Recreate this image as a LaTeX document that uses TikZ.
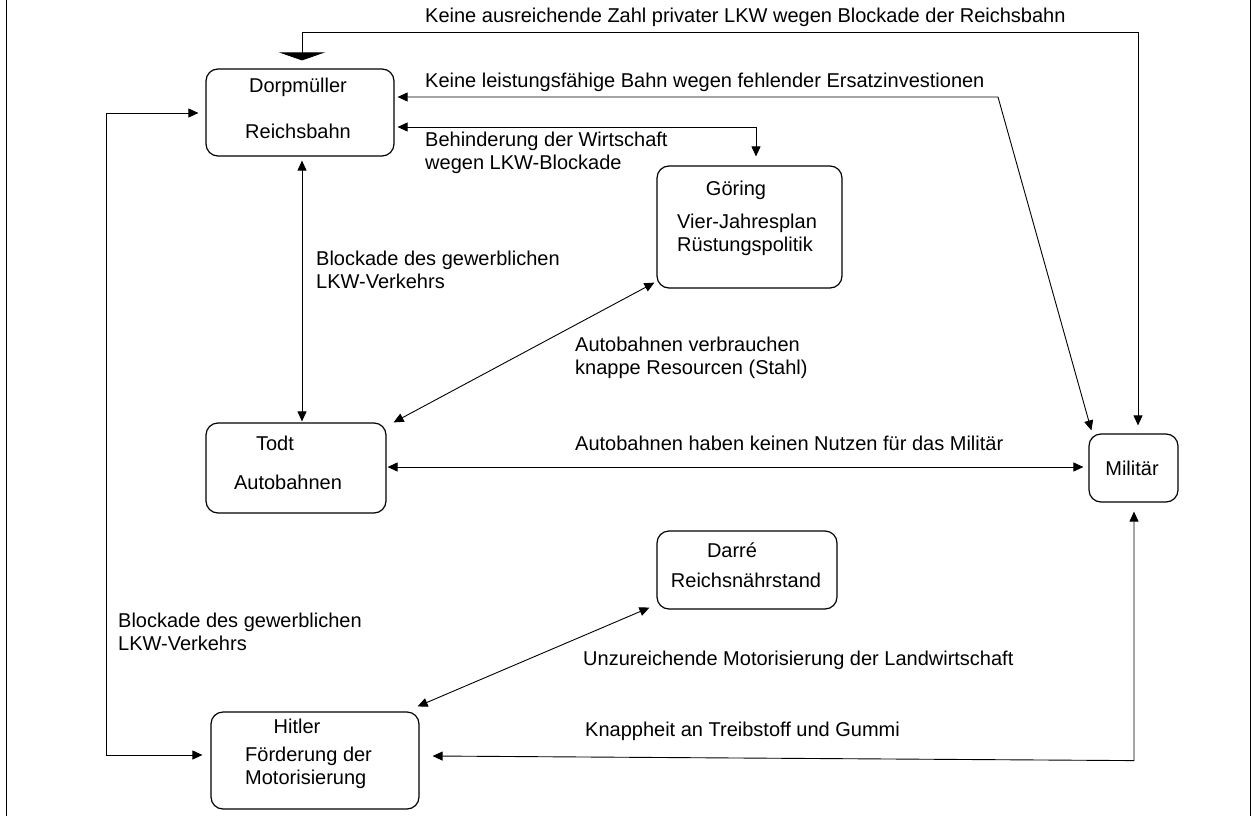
\documentclass[tikz,border=0pt]{standalone}
\usepackage{fontspec}
\setmainfont{Liberation Sans}
\usetikzlibrary{arrows.meta,calc}
\begin{document}
\begin{tikzpicture}[x=1pt,y=-1pt,
  >={Triangle[length=10pt,width=9pt]},
  box/.style={draw=black, line width=1.2pt, rounded corners=12pt, inner sep=0pt},
  conn/.style={draw=black, line width=0.9pt},
  txt/.style={inner sep=0pt, font=\fontsize{20}{23}\selectfont, text=black},
  lab/.style={txt, anchor=west, align=left}]
\fill[white] (0,0) rectangle (1252,816);
\useasboundingbox (0,0) rectangle (1252,816);
\draw[line width=1pt] (6,0) -- (6,816);
\draw[line width=1pt] (1250,0) -- (1250,816);

% boxes
\node[box, minimum width=188pt, minimum height=87pt] (dorp) at (300,112.5) {};
\node[box, minimum width=185pt, minimum height=122pt] (goer) at (749.5,227) {};
\node[box, minimum width=180pt, minimum height=90pt] (todt) at (296,468) {};
\node[box, minimum width=89pt, minimum height=68pt] (mil) at (1133.5,468) {};
\node[box, minimum width=180pt, minimum height=78pt] (darre) at (747,570) {};
\node[box, minimum width=208pt, minimum height=97pt] (hitler) at (315,760.5) {};

% box texts
\node[txt] (t1) at (298,87) {Dorpmüller};
\node[txt] (t2) at (298,131) {Reichsbahn};
\node[txt] (t3) at (736,190) {Göring};
\node[lab] (t4) at (677,234.5) {Vier-Jahresplan\\Rüstungspolitik};
\node[txt] (t5) at (275,443) {Todt};
\node[txt] (t6) at (288,482) {Autobahnen};
\node[txt] (t7) at (1132,468) {Militär};
\node[txt] (t8) at (732,550) {Darré};
\node[txt] (t9) at (746,580) {Reichsnährstand};
\node[txt] (t10) at (297,726) {Hitler};
\node[lab] (t11) at (245,767.5) {Förderung der\\Motorisierung};

% labels
\node[lab] (l1) at (425,17) {Keine ausreichende Zahl privater LKW wegen Blockade der Reichsbahn};
\node[lab] (l2) at (425,82) {Keine leistungsfähige Bahn wegen fehlender Ersatzinvestionen};
\node[lab] (l3) at (425,153) {Behinderung der Wirtschaft\\wegen LKW-Blockade};
\node[lab] (l4) at (316,270) {Blockade des gewerblichen\\LKW-Verkehrs};
\node[lab] (l5) at (575,357.5) {Autobahnen verbrauchen\\knappe Resourcen (Stahl)};
\node[lab] (l6) at (575,443) {Autobahnen haben keinen Nutzen für das Militär};
\node[lab] (l7) at (118,631.5) {Blockade des gewerblichen\\LKW-Verkehrs};
\node[lab] (l8) at (583,660) {Unzureichende Motorisierung der Landwirtschaft};
\node[lab] (l9) at (585,731) {Knappheit an Treibstoff und Gummi};

% connectors
\draw[conn, {Triangle[length=10pt,width=9pt]}-{Triangle[length=8pt,width=46pt]}] ($(mil.north)+(4.5,-8)$) |- ($(dorp.north)+(2,-36)$) -- ($(dorp.north)+(2,-8)$);
\draw[conn, <->] ($(dorp.east)+(3,-15.5)$) -- (998,97) -- ($(mil.north west)+(3,-3)$);
\draw[conn, <->] ($(dorp.east)+(3,14.5)$) -| ($(goer.north)+(6.5,-9)$);
\draw[conn, <->] ($(dorp.south)+(2,4)$) -- ($(todt.north)+(6,-1)$);
\draw[conn, <->] ($(dorp.west)+(-7,0.5)$) -- ++(-92,0) |- ($(hitler.west)+(-8,-5.5)$);
\draw[conn, <->] ($(todt.north east)+(7,0)$) -- ($(goer.south west)+(-2,-6)$);
\draw[conn, <->] ($(todt.east)+(1,-1)$) -- ($(mil.west)+(-5,-1)$);
\draw[conn, <->] ($(hitler.north east)+(-2,-5)$) -- ($(darre.south west)+(-7,-2)$);
\draw[conn, <->] ($(mil.south)+(0.5,9)$) -- ++(0,249) -- ($(hitler.east)+(13,-4.5)$);
\end{tikzpicture}
\end{document}
